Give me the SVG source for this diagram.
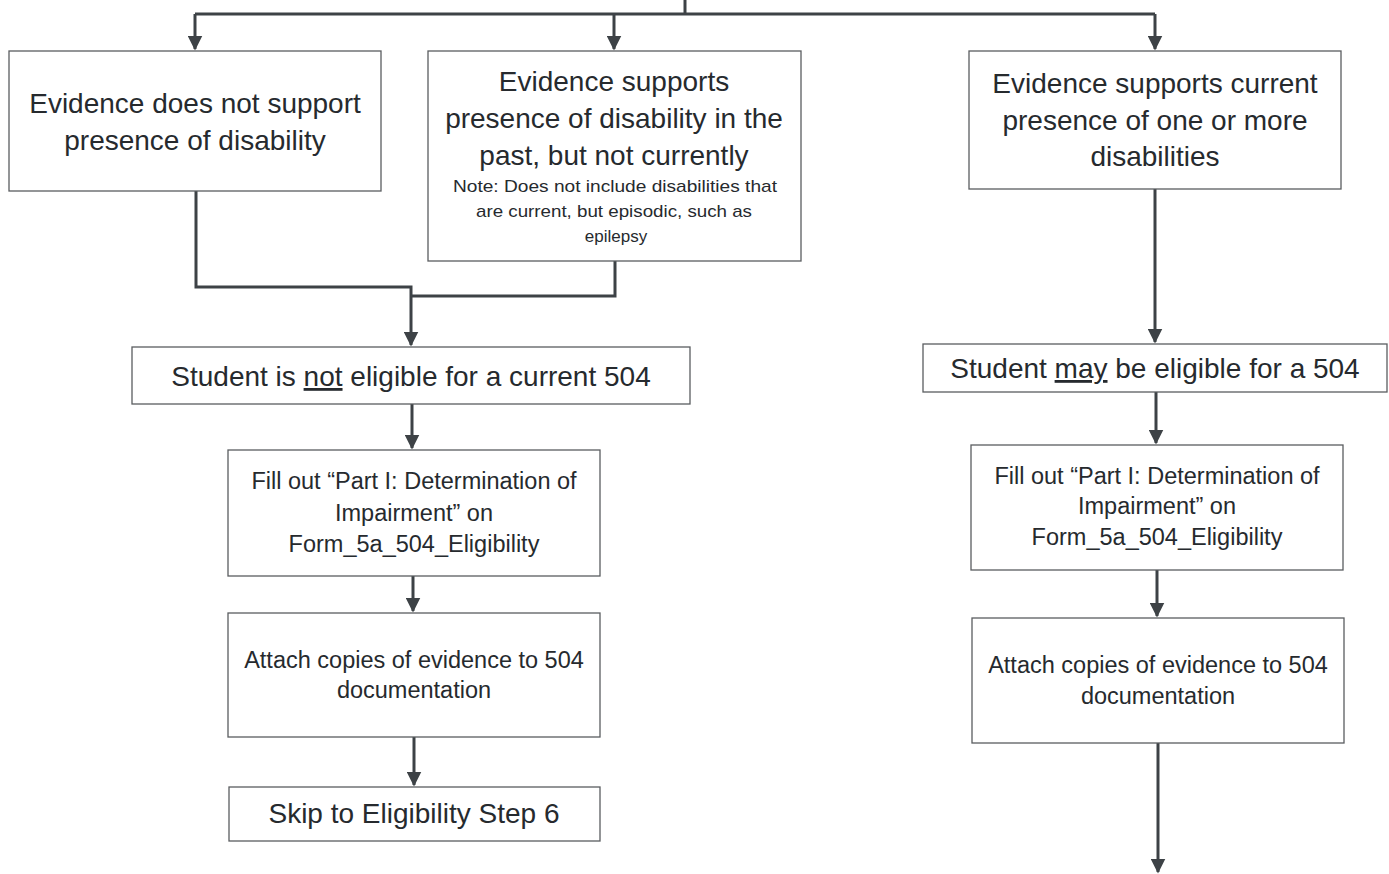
<svg xmlns="http://www.w3.org/2000/svg" width="1389" height="874" viewBox="0 0 1389 874">
<defs>
<style>
.box{fill:#ffffff;stroke:#5a5d60;stroke-width:1.3}
.t{font-family:"Liberation Sans",Arial,sans-serif;fill:#262a2e;text-anchor:middle}
.big{font-size:28px}
.mid{font-size:23.5px}
.sm{font-size:17px}
.c{fill:none;stroke:#3d4246;stroke-width:3}
</style>
<marker id="ah" viewBox="0 0 10 10" refX="9" refY="5" markerWidth="5" markerHeight="5" markerUnits="strokeWidth" orient="auto">
<path d="M0,0 L10,5 L0,10 z" fill="#3d4246"/>
</marker>
</defs>
<rect width="1389" height="874" fill="#ffffff"/>
<g id="connectors">
<path class="c" d="M685,0 V14"/>
<path class="c" d="M195,14 H1155"/>
<path class="c" d="M195,14 V49" marker-end="url(#ah)"/>
<path class="c" d="M614,14 V49" marker-end="url(#ah)"/>
<path class="c" d="M1155,14 V49" marker-end="url(#ah)"/>
<path class="c" d="M196,191 V287 H411 V345" marker-end="url(#ah)"/>
<path class="c" d="M615,261 V296 H411"/>
<path class="c" d="M1155,189 V342" marker-end="url(#ah)"/>
<path class="c" d="M412,404 V448" marker-end="url(#ah)"/>
<path class="c" d="M413,576 V611" marker-end="url(#ah)"/>
<path class="c" d="M414,737 V785" marker-end="url(#ah)"/>
<path class="c" d="M1156,392 V443" marker-end="url(#ah)"/>
<path class="c" d="M1157,570 V616" marker-end="url(#ah)"/>
<path class="c" d="M1158,743 V872" marker-end="url(#ah)"/>
</g>
<g id="n1">
<rect class="box" x="9" y="51" width="372" height="140"/>
<text class="t big" x="195" y="113">Evidence does not support</text>
<text class="t big" x="195" y="150">presence of disability</text>
</g>
<g id="n2">
<rect class="box" x="428" y="51" width="373" height="210"/>
<text class="t big" x="614" y="91">Evidence supports</text>
<text class="t big" x="614" y="128">presence of disability in the</text>
<text class="t big" x="614" y="165">past, but not currently</text>
<text class="t sm" x="615" y="192" textLength="324" lengthAdjust="spacingAndGlyphs">Note: Does not include disabilities that</text>
<text class="t sm" x="614" y="217" textLength="276" lengthAdjust="spacingAndGlyphs">are current, but episodic, such as</text>
<text class="t sm" x="616" y="242">epilepsy</text>
</g>
<g id="n3">
<rect class="box" x="969" y="51" width="372" height="138"/>
<text class="t big" x="1155" y="93">Evidence supports current</text>
<text class="t big" x="1155" y="130">presence of one or more</text>
<text class="t big" x="1155" y="166">disabilities</text>
</g>
<g id="n4">
<rect class="box" x="132" y="347" width="558" height="57"/>
<text class="t big" x="411" y="386">Student is <tspan text-decoration="underline">not</tspan> eligible for a current 504</text>
</g>
<g id="n5">
<rect class="box" x="228" y="450" width="372" height="126"/>
<text class="t mid" x="414" y="489">Fill out “Part I: Determination of</text>
<text class="t mid" x="414" y="521">Impairment” on</text>
<text class="t mid" x="414" y="552">Form_5a_504_Eligibility</text>
</g>
<g id="n6">
<rect class="box" x="228" y="613" width="372" height="124"/>
<text class="t mid" x="414" y="668">Attach copies of evidence to 504</text>
<text class="t mid" x="414" y="698">documentation</text>
</g>
<g id="n7">
<rect class="box" x="229" y="787" width="371" height="54"/>
<text class="t big" x="414" y="823">Skip to Eligibility Step 6</text>
</g>
<g id="n8">
<rect class="box" x="923" y="344" width="464" height="48"/>
<text class="t big" x="1155" y="378">Student <tspan text-decoration="underline">may</tspan> be eligible for a 504</text>
</g>
<g id="n9">
<rect class="box" x="971" y="445" width="372" height="125"/>
<text class="t mid" x="1157" y="484">Fill out “Part I: Determination of</text>
<text class="t mid" x="1157" y="514">Impairment” on</text>
<text class="t mid" x="1157" y="545">Form_5a_504_Eligibility</text>
</g>
<g id="n10">
<rect class="box" x="972" y="618" width="372" height="125"/>
<text class="t mid" x="1158" y="673">Attach copies of evidence to 504</text>
<text class="t mid" x="1158" y="704">documentation</text>
</g>
</svg>
